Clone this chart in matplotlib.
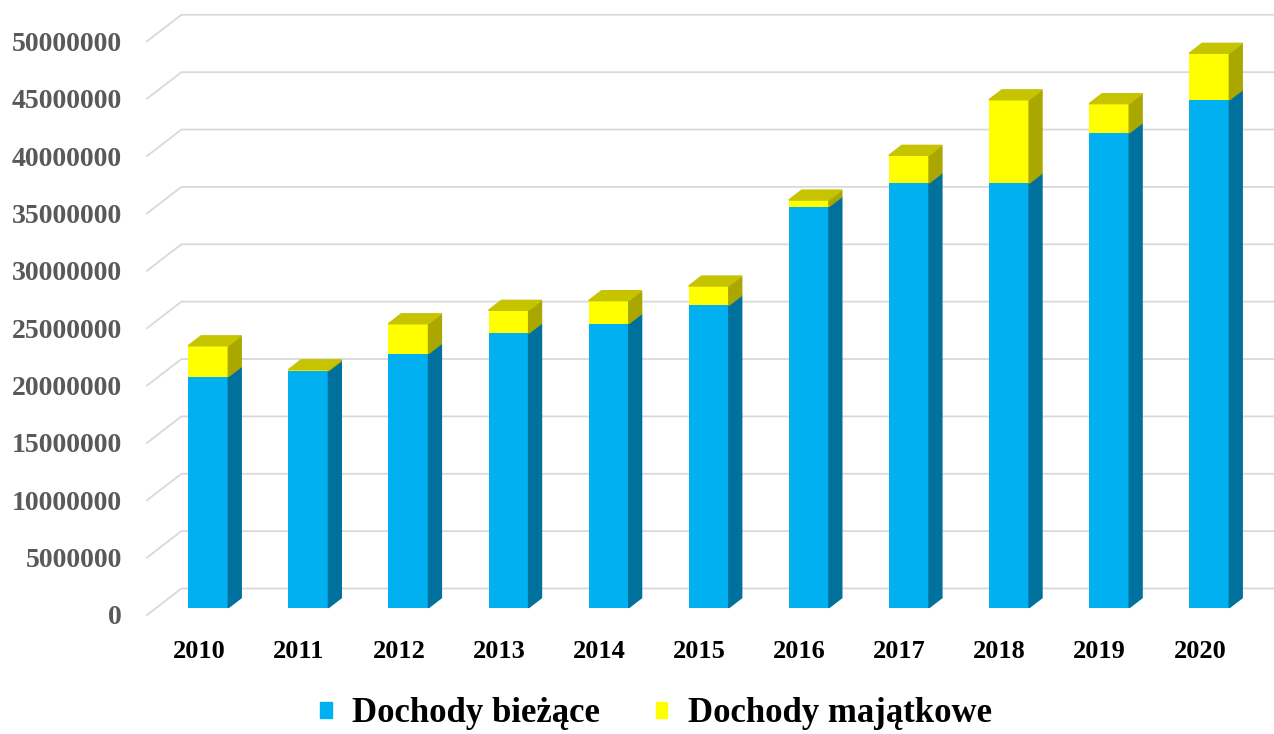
import matplotlib.pyplot as plt
from matplotlib.patches import Polygon, Patch

lata = ['2010', '2011', '2012', '2013', '2014', '2015', '2016', '2017', '2018', '2019', '2020']
biezace = [20130000, 20630000, 22140000, 23910000, 24750000, 26350000,
           34950000, 37010000, 36990000, 41370000, 44250000]
majatkowe = [2700000, 110000, 2610000, 2010000, 2010000, 1690000,
             580000, 2420000, 7280000, 2560000, 4070000]
y_ticks = list(range(0, 50000001, 5000000))

# kolory w stylu Excela 3D
niebieski, niebieski_bok = '#00B0F0', '#00709C'
zolty, zolty_bok, zolty_gora = '#FFFF00', '#A9A700', '#C6C300'
siatka = '#D9D9D9'

# wektor glebokosci (jedna pelna glebokosc wykresu) w jednostkach danych
DX = 0.3437
DY = 2310000
D0 = 0.275   # przednia sciana slupka
BD = 0.375   # glebokosc slupka
W = 0.4

fig = plt.figure(figsize=(12.74, 7.34), dpi=100)
ax = fig.add_axes([147 / 1274, 119 / 734, 1127 / 1274, 615 / 734])
x_min, x_max = -0.5175, 10.741
ax.set_xlim(x_min, x_max)
ax.set_ylim(0, 53600000)
for s in ax.spines.values():
    s.set_visible(False)

# siatka: sciana boczna (skos) + tylna sciana
for v in y_ticks:
    ax.plot([x_min, x_min + DX, x_max], [v, v + DY, v + DY], color=siatka,
            lw=1.3, zorder=0, clip_on=False, solid_joinstyle='miter')


def klocek(x, y0, y1, kolor, bok, gora):
    xl = x - W / 2 + DX * D0
    xr = x + W / 2 + DX * D0
    yb = y0 + DY * D0
    yt = y1 + DY * D0
    ax.bar(xl, y1 - y0, bottom=yb, width=W, align='edge', color=kolor, zorder=2)
    ax.add_patch(Polygon([(xr, yb), (xr + DX * BD, yb + DY * BD),
                          (xr + DX * BD, yt + DY * BD), (xr, yt)],
                         closed=True, color=bok, zorder=2))
    if gora is not None:
        ax.add_patch(Polygon([(xl, yt), (xr, yt), (xr + DX * BD, yt + DY * BD),
                              (xl + DX * BD, yt + DY * BD)],
                             closed=True, color=gora, zorder=2))


for i in range(len(lata)):
    klocek(i, 0, biezace[i], niebieski, niebieski_bok, None)
    klocek(i, biezace[i], biezace[i] + majatkowe[i], zolty, zolty_bok, zolty_gora)

ax.set_yticks(y_ticks)
ax.set_yticklabels([str(v) for v in y_ticks], fontfamily='Liberation Serif',
                   fontweight='bold', fontsize=20, color='#595959')
ax.set_xticks(range(len(lata)))
ax.set_xticklabels(lata, fontfamily='Liberation Serif', fontweight='bold',
                   fontsize=19, color='black')
ax.tick_params(axis='y', length=0, pad=18)
ax.tick_params(axis='x', length=0, pad=18)

uchwyty = [Patch(color=niebieski, label='Dochody bieżące'),
           Patch(color=zolty, label='Dochody majątkowe')]
fig.legend(handles=uchwyty, loc='center', bbox_to_anchor=(0.515, 20 / 734), ncol=2,
           frameon=False, prop={'family': 'Liberation Serif', 'weight': 'bold', 'size': 25},
           handlelength=0.33, handleheight=0.33, handletextpad=0.6, columnspacing=1.6)

fig.savefig('out.png', dpi=100)
